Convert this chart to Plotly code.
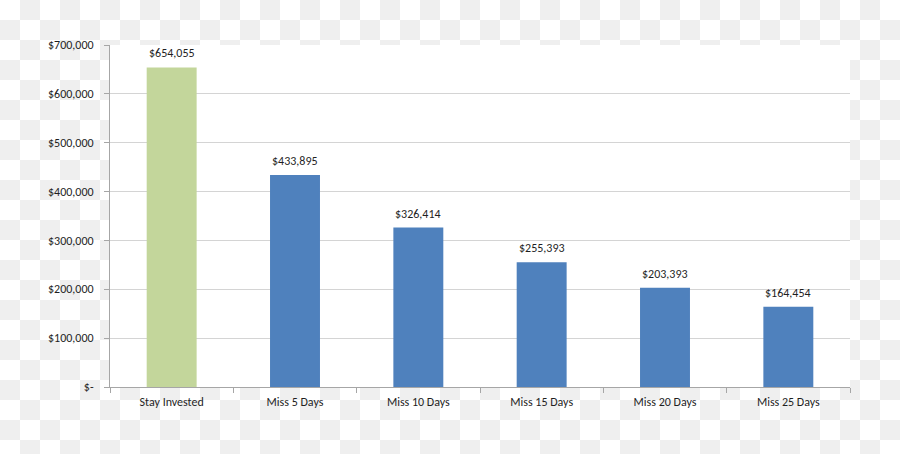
import plotly.graph_objects as go
import urllib.parse

categories = ["Stay Invested", "Miss 5 Days", "Miss 10 Days", "Miss 15 Days", "Miss 20 Days", "Miss 25 Days"]
values = [654055, 433895, 326414, 255393, 203393, 164454]
bar_colors = ["#c3d69b", "#4f81bd", "#4f81bd", "#4f81bd", "#4f81bd", "#4f81bd"]
tick_vals = [0, 100000, 200000, 300000, 400000, 500000, 600000, 700000]
tick_text = ["$-", "$100,000", "$200,000", "$300,000", "$400,000", "$500,000", "$600,000", "$700,000"]
labels = ["${:,}".format(v) for v in values]

W, H = 900, 454
L, R, T, B = 110, 50, 45, 67
pw, ph = W - L - R, H - T - B

# checkerboard (transparency) background as SVG data URI
svg = (
    f"<svg xmlns='http://www.w3.org/2000/svg' width='{W}' height='{H}'>"
    "<defs><pattern id='p' width='40' height='40' patternUnits='userSpaceOnUse'>"
    "<rect width='40' height='40' fill='#ffffff'/>"
    "<rect x='20' y='0' width='20' height='20' fill='#efefef'/>"
    "<rect x='0' y='20' width='20' height='20' fill='#efefef'/>"
    "</pattern></defs>"
    f"<rect width='{W}' height='{H}' fill='url(#p)'/></svg>"
)
src = "data:image/svg+xml;charset=utf-8," + urllib.parse.quote(svg)

font = "Carlito, Calibri, Lato, sans-serif"
fsize = 12
tcolor = "#1f1f1f"

fig = go.Figure(
    go.Bar(
        x=categories,
        y=values,
        marker=dict(color=bar_colors, line=dict(width=0)),
        hoverinfo="skip",
    )
)

annotations = [
    dict(
        x=c, y=v, xref="x", yref="y", text=t, showarrow=False,
        yanchor="bottom", yshift=5,
        font=dict(family=font, size=fsize, color=tcolor),
    )
    for c, v, t in zip(categories, values, labels)
]

fig.update_layout(
    width=W,
    height=H,
    margin=dict(l=L, r=R, t=T, b=B),
    paper_bgcolor="#ffffff",
    plot_bgcolor="#ffffff",
    bargap=0.595,
    showlegend=False,
    font=dict(family=font, size=fsize, color=tcolor),
    annotations=annotations,
    images=[
        dict(
            source=src,
            xref="paper",
            yref="paper",
            x=-L / pw,
            y=1 + T / ph,
            sizex=W / pw,
            sizey=H / ph,
            xanchor="left",
            yanchor="top",
            sizing="stretch",
            layer="below",
        )
    ],
    shapes=[
        dict(
            type="rect",
            xref="paper",
            yref="paper",
            x0=0,
            x1=1,
            y0=0,
            y1=1,
            fillcolor="#ffffff",
            line=dict(width=0),
            layer="below",
        )
    ],
)

fig.update_xaxes(
    showline=True,
    linecolor="#a6a6a6",
    linewidth=1,
    ticks="outside",
    tickson="boundaries",
    ticklen=5,
    tickcolor="#a6a6a6",
    showgrid=False,
    ticklabelstandoff=4,
    tickfont=dict(family=font, size=fsize, color=tcolor),
)
fig.update_yaxes(
    range=[0, 700000],
    tickvals=tick_vals,
    ticktext=tick_text,
    showline=True,
    linecolor="#a6a6a6",
    linewidth=1,
    ticks="outside",
    ticklen=5,
    tickcolor="#a6a6a6",
    showgrid=True,
    gridcolor="#d4d4d4",
    gridwidth=1,
    zeroline=False,
    ticklabelstandoff=8,
    tickfont=dict(family=font, size=fsize, color=tcolor),
)

fig.write_html("out.html")
